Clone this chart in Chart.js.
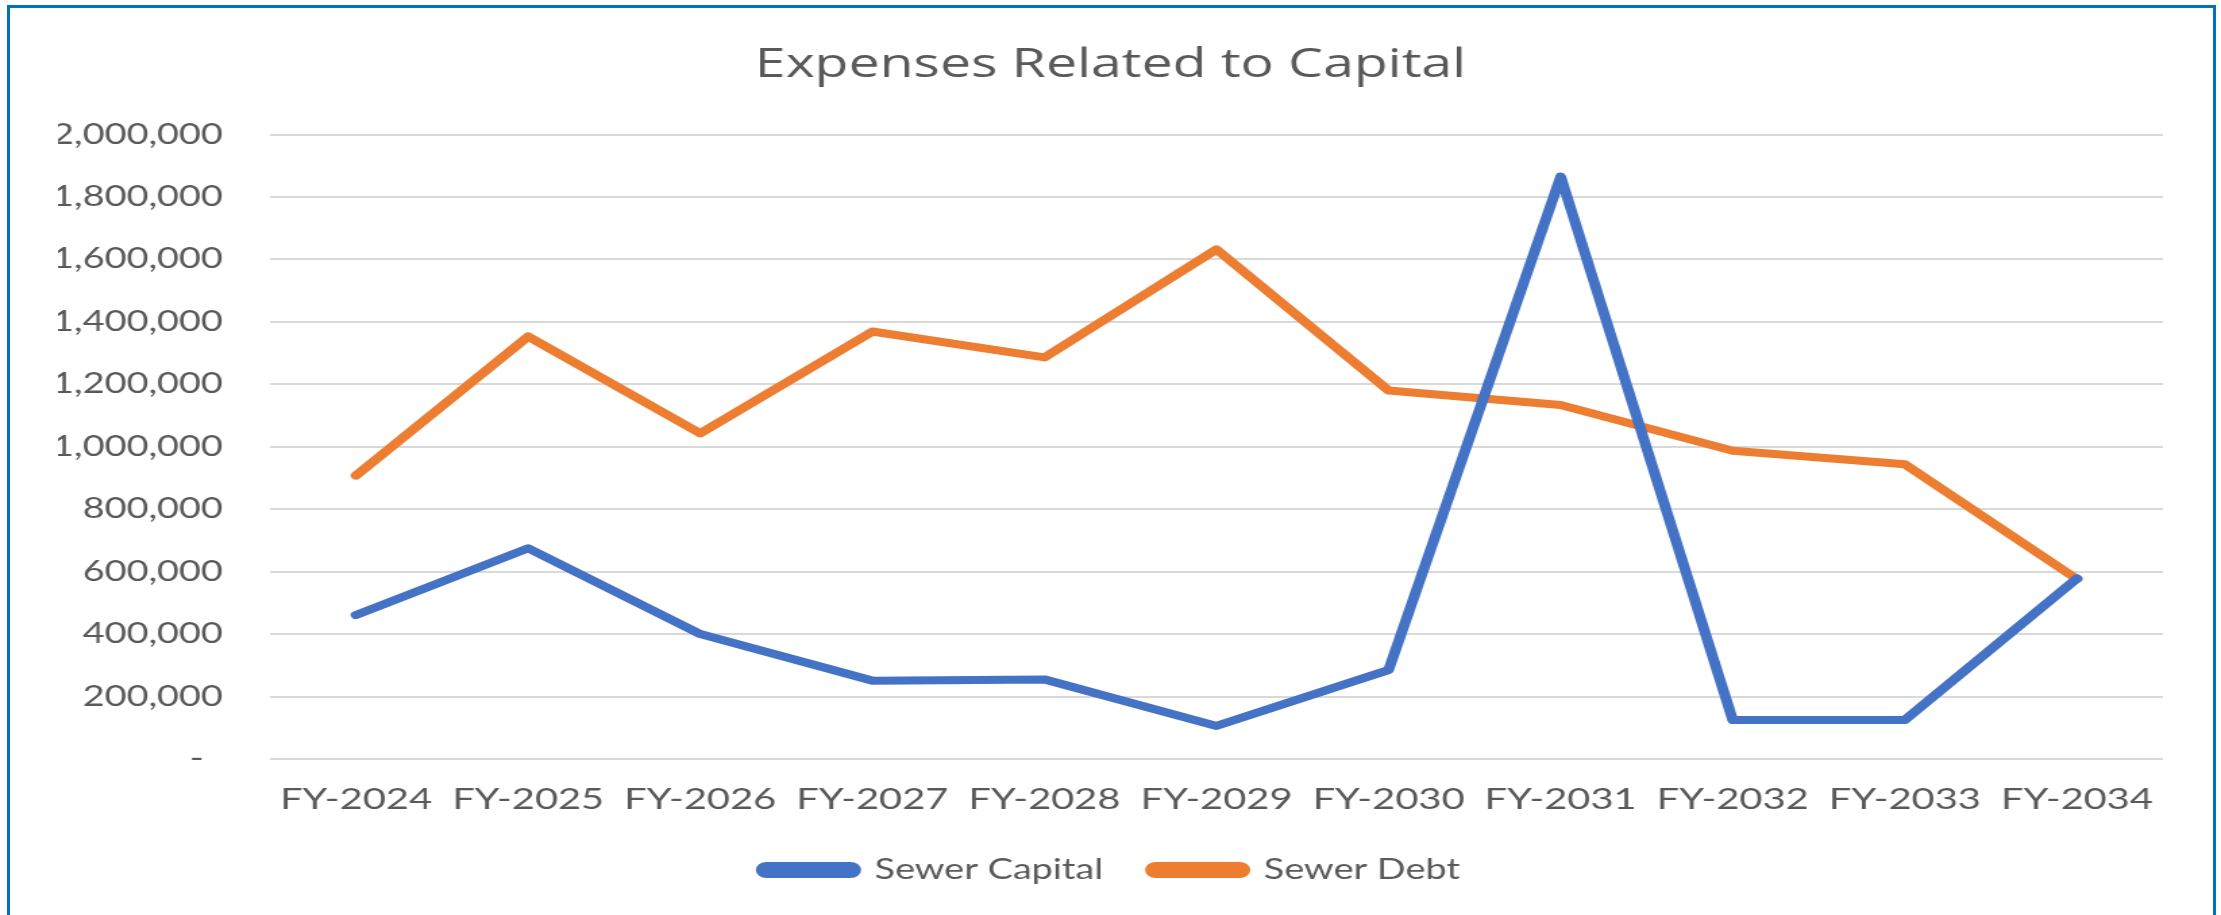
<!DOCTYPE html>
<html>
<head>
<meta charset="utf-8">
<title>Expenses Related to Capital</title>
<script src="https://cdn.jsdelivr.net/npm/chart.js@4.4.0/dist/chart.umd.min.js"></script>
<style>
  html, body { margin: 0; padding: 0; background: #fff; overflow: hidden; width: 2221px; height: 915px; }
  #frame { position: absolute; left: 7px; top: 5px; width: 2209px; height: 1000px; box-sizing: border-box; border: 3px solid #0070C0; }
  /* the reference is stretched sideways, so the chart is drawn narrow and widened */
  #wrap { position: absolute; left: 0; top: 0; width: 1645px; height: 915px; transform: scaleX(1.35015); transform-origin: 0 0; }
</style>
</head>
<body>
<div id="wrap"><canvas id="myChart" width="1645" height="915"></canvas></div>
<div id="frame"></div>
<script>
// données
const years = ["FY-2024", "FY-2025", "FY-2026", "FY-2027", "FY-2028", "FY-2029",
               "FY-2030", "FY-2031", "FY-2032", "FY-2033", "FY-2034"];
const sewerCapital = [461000, 675000, 400000, 251000, 255000, 106000,
                      285000, 1865000, 125000, 125000, 578000];
const sewerDebt = [908000, 1353000, 1043000, 1369000, 1286000, 1632000,
                   1180000, 1134000, 987000, 944000, 576000];

const yMin = 0;
const yMax = 2000000;
const yStep = 200000;

const grey = "#595959";

Chart.defaults.font.family = "Lato";
Chart.defaults.color = grey;

const data = {
  labels: years,
  datasets: [
    {
      label: "Sewer Capital",
      data: sewerCapital,
      borderColor: "#4472C4",
      backgroundColor: "#4472C4",
      borderWidth: 8,
      pointRadius: 0,
      borderCapStyle: "round",
      borderJoinStyle: "round",
      tension: 0,
    },
    {
      label: "Sewer Debt",
      data: sewerDebt,
      borderColor: "#ED7D31",
      backgroundColor: "#ED7D31",
      borderWidth: 8,
      pointRadius: 0,
      borderCapStyle: "round",
      borderJoinStyle: "round",
      tension: 0,
    },
  ],
};

const config = {
  type: "line",
  data: data,
  options: {
    responsive: false,
    animation: false,
    layout: {
      padding: { top: 0, left: 43, right: 43, bottom: 21 },
    },
    plugins: {
      title: {
        display: true,
        text: "Expenses Related to Capital",
        color: grey,
        font: { family: "Open Sans", size: 41, weight: "normal", lineHeight: 1.2 },
        padding: { top: 41.2, bottom: 44.1 },
      },
      legend: {
        position: "bottom",
        labels: {
          color: grey,
          font: { size: 28 },
          boxWidth: 70,
          boxHeight: 8,
          useBorderRadius: true,
          borderRadius: 4,
          padding: 35,
        },
      },
      tooltip: { enabled: false },
    },
    scales: {
      x: {
        offset: true,
        grid: { display: false, drawTicks: false },
        border: { display: false },
        ticks: { padding: 22.8, font: { size: 29.5 }, color: grey, maxRotation: 0, autoSkip: false },
        afterFit: (scale) => { scale.height = 62; },
      },
      y: {
        min: yMin,
        max: yMax,
        grid: { color: "#D9D9D9", lineWidth: 2, drawTicks: false },
        border: { display: false },
        ticks: {
          stepSize: yStep,
          padding: 35,
          font: { size: 28 },
          color: grey,
          callback: (v) => (v === 0 ? "-\u2002" : v.toLocaleString("en-US")),
        },
        afterFit: (scale) => { scale.width = 157; },
      },
    },
  },
};

const context = document.getElementById("myChart").getContext("2d");
const chart = new Chart(context, config);
</script>
</body>
</html>
